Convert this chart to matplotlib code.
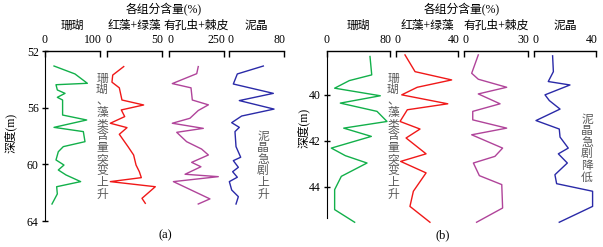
import matplotlib
matplotlib.use("Agg")
import matplotlib.pyplot as plt

plt.rcParams['font.family'] = ['Liberation Serif', 'Noto Sans CJK SC']

W, H = 603, 247

# ---- panel (a) data: depth (m) / content (%) ----
a_coral_d = [53.06, 53.62, 54.28, 54.38, 54.75, 54.99, 55.27, 55.46, 56.52, 56.87, 57.39, 57.69,
             58.40, 58.75, 59.11, 59.69, 60.05, 60.40, 60.75, 61.22, 61.58, 62.09, 62.80]
a_coral_v = [16.4, 54.5, 77, 20, 22.4, 36.4, 22.4, 32, 32, 75.8, 16.4, 69.7,
             72.7, 33.3, 24.2, 20, 34.5, 24.2, 38.2, 64.8, 21.2, 22.4, 12.7]
a_red_d = [53.1, 53.7, 54.2, 54.6, 55.46, 55.81, 56.16, 56.63, 57.1, 57.41, 57.88, 58.75,
           59.34, 60.05, 60.52, 60.94, 61.22, 61.58, 62.4, 62.75]
a_red_v = [15.2, 5.2, 4.5, 11.2, 13.6, 33.3, 13, 16.1, 3, 18.2, 11.2, 19.1,
           24.2, 26.4, 29.4, 31.2, 3, 43.9, 31.8, 34.8]
a_foram_d = [53.1, 53.6, 54.3, 54.6, 55.46, 55.8, 56.2, 56.75, 57.1, 57.46, 57.74, 58.4,
             58.92, 59.34, 59.86, 60.17, 60.7, 60.87, 61.22, 62.44, 62.8]
a_foram_v = [133, 126, 15, 100, 106, 179, 133, 95, 15, 156, 35, 80,
             148, 179, 103, 145, 73, 224, 20, 186, 133]
a_mud_d = [53.06, 53.62, 54.33, 54.99, 55.5, 56.1, 56.59, 57.06, 57.39, 57.69, 58.75, 59.5,
           59.74, 60.21, 60.52, 60.91, 61.22, 61.81, 62.28, 62.8]
a_mud_v = [49.9, 12.1, 6.3, 64.5, 15, 65.5, 18.4, 3.9, 15, 8.7, 10.2, 17,
           6.3, 13.6, 5.3, 12.1, 0.5, 3.9, 13.6, 10.2]

# ---- panel (b) data ----
b_coral_d = [38.33, 39.13, 39.38, 39.71, 40.04, 40.36, 40.72, 41.16, 41.45, 41.81, 42.32,
             42.65, 42.97, 43.55, 44.13, 45.0, 45.55]
b_coral_v = [54.6, 56.8, 28.3, 9.7, 67.7, 16.9, 63.5, 76.2, 21.2, 56.3, 5.5,
             23.3, 50.8, 18.2, 9.7, 9.7, 35.1]
b_red_d = [38.26, 38.99, 39.35, 39.67, 40.0, 40.39, 40.65, 41.16, 41.49, 41.88, 42.57,
           42.9, 43.4, 44.2, 44.86, 45.55]
b_red_v = [5.8, 12.3, 35.9, 13.7, 3.7, 33.4, 7.3, 2.6, 15.5, 6.5, 19.4,
           3.0, 19.4, 11.2, 9.0, 21.9]
b_foram_d = [38.26, 39.06, 39.32, 39.67, 39.96, 40.39, 40.72, 41.09, 41.45, 41.74, 42.32,
             42.68, 42.97, 43.52, 43.91, 44.93, 45.55]
b_foram_v = [6.7, 3.6, 6.7, 20.0, 6.7, 16.9, 4.1, 4.1, 20.0, 3.6, 18.1,
             14.5, 4.4, 7.2, 17.7, 18.1, 5.9]
b_mud_d = [38.3, 38.99, 39.42, 39.57, 40.0, 40.25, 40.62, 41.12, 41.49, 41.84, 42.32,
           42.57, 42.97, 43.48, 43.87, 44.2, 44.86, 45.55]
b_mud_v = [12.0, 12.5, 9.2, 23.2, 7.1, 9.9, 16.8, 1.3, 16.3, 16.8, 22.1,
           15.7, 21.5, 13.5, 14.6, 37.8, 37.8, 16.3]

names = ['珊瑚', '红藻+绿藻', '有孔虫+棘皮', '泥晶']
colors = ['#12b04a', '#f01818', '#b0449a', '#2a2aa8']
a_max = [100, 50, 250, 80]
b_max = [80, 40, 30, 40]
a_yticks = [52, 56, 60, 64]
b_yticks = [40, 42, 44]

fig = plt.figure(figsize=(W / 100, H / 100), dpi=100)


def rect(x0, y0, x1, y1):
    return [x0 / W, 1 - y1 / H, (x1 - x0) / W, (y1 - y0) / H]


def panel(cols, series, maxes, ylim, yticks, spine_bottom, y0, y1):
    for i, ((x0, x1), (d, v)) in enumerate(zip(cols, series)):
        ax = fig.add_axes(rect(x0, y0, x1, y1))
        ax.plot(v, d, color=colors[i], lw=1.0, clip_on=False)
        ax.set_xlim(0, maxes[i])
        ax.set_ylim(*ylim)
        for s in ['bottom', 'right']:
            ax.spines[s].set_visible(False)
        ax.spines['top'].set_linewidth(1.0)
        ax.xaxis.tick_top()
        ax.set_xticks([0, maxes[i]])
        ax.set_xticklabels([])
        ax.tick_params(axis='x', direction='in', length=4, width=1.0)
        ax.patch.set_visible(False)
        # tick labels: 0 centred, max flush right
        fig.text((x0 + (1.5 if i else 0)) / W, 1 - 40 / H, '0', ha='center', va='center', fontsize=8.5)
        fig.text((x1 + 1.5) / W, 1 - 40 / H, str(maxes[i]), ha='right', va='center', fontsize=8.5)
        if i == 0:
            ax.spines['left'].set_bounds(ylim[1], spine_bottom)
            ax.set_yticks(yticks)
            ax.tick_params(axis='y', direction='inout', length=5, width=1.0, pad=2, labelsize=8.5)
        else:
            ax.spines['left'].set_visible(False)
            ax.set_yticks([])
        cx = (x0 + x1) / 2
        fig.text(cx / W, 1 - 26 / H, names[i], ha='center', va='center', fontsize=8.5)


def vtext(x, y, s, step=11.6):
    # one glyph per row, written top to bottom
    for k, ch in enumerate(s):
        fig.text(x / W, 1 - (y + k * step) / H, ch, ha='center', va='center', fontsize=8.5,
                 color='#5a5a5a', family='Noto Sans CJK SC')


a_cols = [(45, 100), (107, 162), (169, 224), (229, 284)]
a_series = [(a_coral_d, a_coral_v), (a_red_d, a_red_v), (a_foram_d, a_foram_v), (a_mud_d, a_mud_v)]
panel(a_cols, a_series, a_max, (64, 52), a_yticks, 64, 51, 221)

b_cols = [(327, 390), (396, 458), (464, 528), (534, 596)]
b_series = [(b_coral_d, b_coral_v), (b_red_d, b_red_v), (b_foram_d, b_foram_v), (b_mud_d, b_mud_v)]
panel(b_cols, b_series, b_max, (45.57, 38.09), b_yticks, 45.35, 51, 222.7)

fig.text(164 / W, 1 - 10 / H, '各组分含量(%)', ha='center', va='center', fontsize=8.5)
fig.text(462 / W, 1 - 10 / H, '各组分含量(%)', ha='center', va='center', fontsize=8.5)

fig.text(10 / W, 1 - 133 / H, '深度(m)', ha='center', va='center', rotation=90, fontsize=8.5)
fig.text(303 / W, 1 - 128 / H, '深度(m)', ha='center', va='center', rotation=90, fontsize=8.5)

vtext(102, 78, '珊瑚、藻类含量突变上升')
vtext(263, 136, '泥晶急剧上升')
vtext(393, 78, '珊瑚、藻类含量突变上升')
vtext(587, 119, '泥晶急剧降低')

fig.text(165 / W, 1 - 235 / H, '(a)', ha='center', va='center', fontsize=9)
fig.text(443 / W, 1 - 235 / H, '(b)', ha='center', va='center', fontsize=9)

fig.savefig('out.png', dpi=100)
